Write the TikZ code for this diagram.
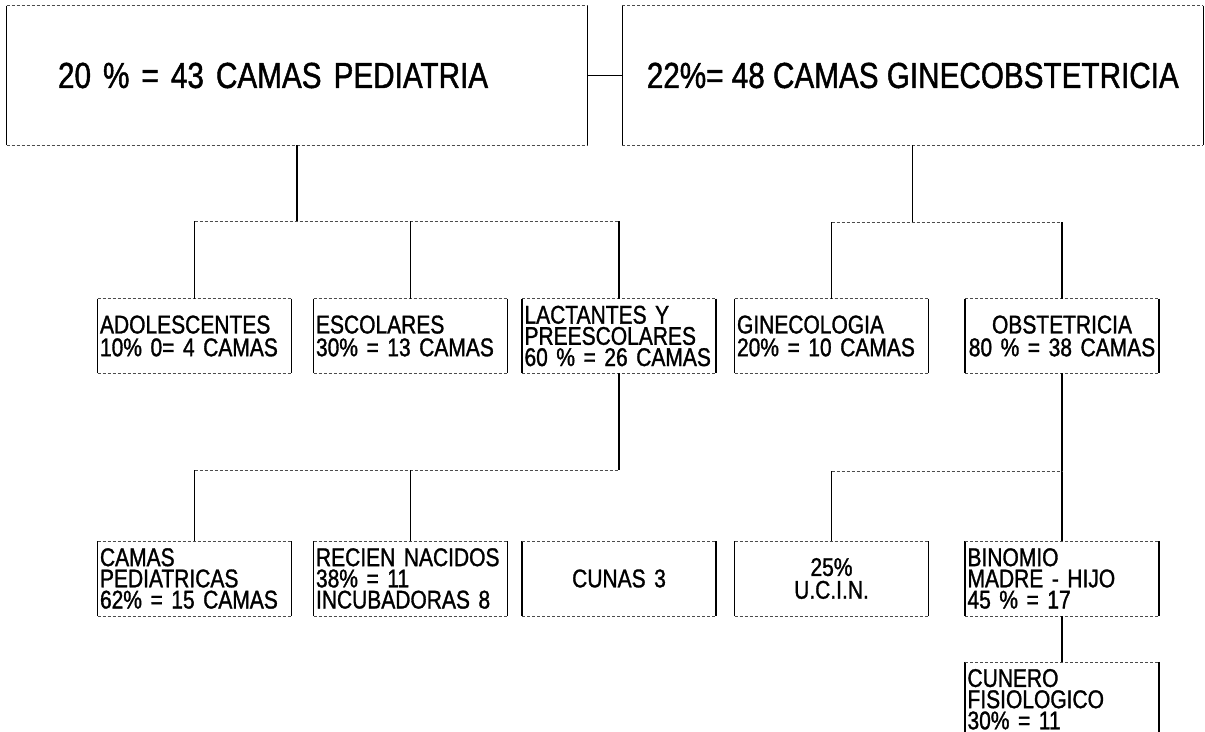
\documentclass[tikz,border=0pt]{standalone}
\usepackage{fontspec}
\setmainfont{Liberation Sans}
\newfontfamily\narrowsans[FakeStretch=0.82, FakeBold=1.2]{Liberation Sans}
\usetikzlibrary{positioning}

\begin{document}
\begin{tikzpicture}[
      x=0.5pt, y=-0.5pt,
      % uprights of the boxes and the drops: solid
      upright/.style={line width=0.65pt, black},
      % top and bottom edges and the bus lines: broken, as on the scan
      rim/.style={line width=0.4pt, black!70, dash pattern=on 1.5pt off 1pt},
      title/.style={minimum width=290pt, minimum height=69.5pt, inner ysep=0pt,
        font=\narrowsans\fontsize{18.1}{22}\selectfont},
      ward/.style={text width=94.5pt, inner xsep=1pt, inner ysep=0pt, minimum height=37pt,
        align=left, font=\narrowsans\fontsize{12.8}{11.4}\selectfont},
      tight/.style={font=\narrowsans\fontsize{12.8}{10.6}\selectfont}
    ]

    \useasboundingbox (0,0) rectangle (1205,732);
    \clip (0,0) rectangle (1205,732);

    % --- top level ---
    \node[title, text width=239pt, inner xsep=25.5pt, align=left] (ped) at (297,75.5)
      {20 \% = 43 CAMAS PEDIATRIA};
    \node[title, right=17.5pt of ped] (gin) {22\%= 48 CAMAS GINECOBSTETRICIA};

    % --- second level ---
    \node[ward] (ado) at (194.5,336) {ADOLESCENTES\\10\% 0= 4 CAMAS};
    \node[ward] (esc) at (410.5,336) {ESCOLARES\\30\% = 13 CAMAS};
    \node[ward, tight] (lac) at (619,336) {LACTANTES Y\\PREESCOLARES\\60 \% = 26 CAMAS};
    \node[ward] (gic) at (831.5,336) {GINECOLOGIA\\20\% = 10 CAMAS};
    \node[ward, align=center] (obs) at (1062,336) {OBSTETRICIA\\80 \% = 38 CAMAS};

    % --- third level ---
    \node[ward, tight] (cpe) at (194.5,578.5) {CAMAS\\PEDIATRICAS\\62\% = 15 CAMAS};
    \node[ward, tight] (rn)  at (410.5,578.5) {RECIEN NACIDOS\\38\% = 11\\INCUBADORAS 8};
    \node[ward, align=center] (cun)  at (619,578.5)   {CUNAS 3};
    \node[ward, align=center] (ucin) at (831.5,578.5) {25\%\\U.C.I.N.};
    \node[ward, tight] (bin) at (1062,578.5) {BINOMIO\\MADRE - HIJO\\45 \% = 17};
    \node[ward, tight, below=23pt of bin] (cfi) {CUNERO\\FISIOLOGICO\\30\% = 11};

    % --- box sides ---
    \foreach \n in {ped, gin, ado, esc, lac, gic, obs, cpe, rn, cun, ucin, bin, cfi} {
      \draw[upright] (\n.north west) -- (\n.south west) (\n.north east) -- (\n.south east);
      \draw[rim] (\n.north west) -- (\n.north east) (\n.south west) -- (\n.south east);
    }

    % --- pediatria branch ---
    \draw[upright] (ped.east) -- (gin.west);
    \path (ped.south) ++(0,76) coordinate (pedbus);
    \draw[upright] (ped.south) -- (pedbus);
    \draw[rim] (ado.north |- pedbus) -- (lac.north |- pedbus);
    \foreach \n in {ado, esc, lac}
      \draw[upright] (\n.north |- pedbus) -- (\n.north);

    \path (lac.south) ++(0,97) coordinate (lacbus);
    \draw[upright] (lac.south) -- (lacbus);
    \draw[rim] (cpe.north |- lacbus) -- (lacbus);
    \foreach \n in {cpe, rn}
      \draw[upright] (\n.north |- lacbus) -- (\n.north);

    % --- ginecobstetricia branch ---
    \path (gin.south) ++(0,77) coordinate (ginbus);
    \draw[upright] (gin.south) -- (ginbus);
    \draw[rim] (gic.north |- ginbus) -- (obs.north |- ginbus);
    \foreach \n in {gic, obs}
      \draw[upright] (\n.north |- ginbus) -- (\n.north);

    \path (obs.south) ++(0,98) coordinate (obsbus);
    \draw[upright] (obs.south) -- (bin.north);
    \draw[rim] (ucin.north |- obsbus) -- (obsbus);
    \draw[upright] (ucin.north |- obsbus) -- (ucin.north);
    \draw[upright] (bin.south) -- (cfi.north);

  \end{tikzpicture}
\end{document}
